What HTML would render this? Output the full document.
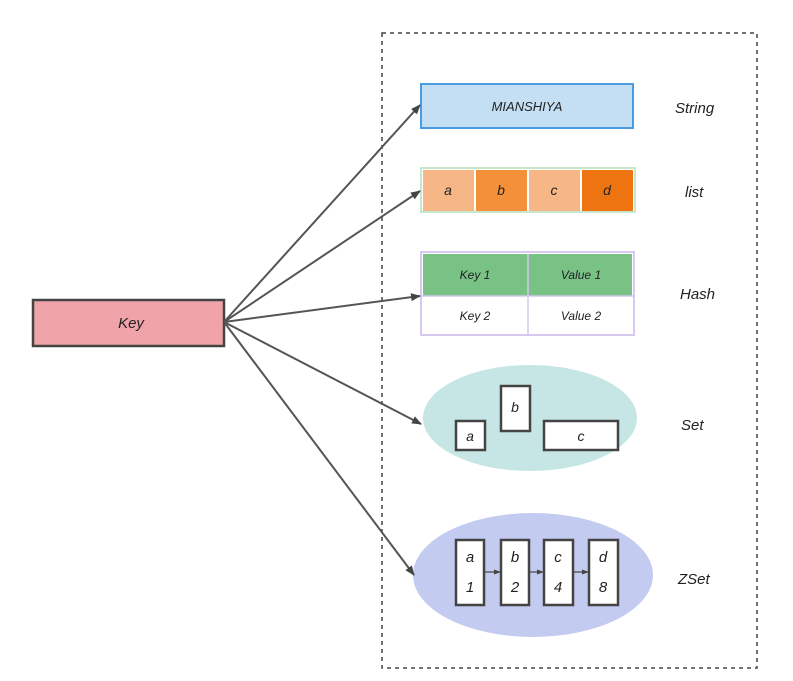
<!DOCTYPE html>
<html><head><style>body{margin:0;background:#fff}svg{display:block}text{font-family:"Liberation Sans",sans-serif;font-style:italic;fill:#222}</style></head>
<body>
<svg width="793" height="681" viewBox="0 0 793 681" xmlns="http://www.w3.org/2000/svg">
<defs><marker id="ar" markerWidth="10" markerHeight="10" refX="9" refY="5" orient="auto" markerUnits="userSpaceOnUse"><path d="M0,1 L10,5 L0,9 Z" fill="#444"/></marker>
<marker id="as" markerWidth="7" markerHeight="7" refX="6" refY="3.5" orient="auto" markerUnits="userSpaceOnUse"><path d="M0,1 L7,3.5 L0,6 Z" fill="#444"/></marker></defs>
<rect x="382" y="33" width="375" height="635" fill="none" stroke="#444" stroke-width="1.5" stroke-dasharray="4,4"/>
<rect x="421" y="84" width="212" height="44" fill="#c4dff4" stroke="#4a9be0" stroke-width="2"/>
<text x="527" y="111" text-anchor="middle" font-size="13">MIANSHIYA</text>
<rect x="421" y="168" width="214" height="44" fill="#fff" stroke="#c8e6cc" stroke-width="2"/>
<rect x="423" y="170" width="51" height="41" fill="#f6b686"/>
<rect x="476" y="170" width="51" height="41" fill="#f39039"/>
<rect x="529" y="170" width="51" height="41" fill="#f6b686"/>
<rect x="582" y="170" width="51" height="41" fill="#ee7412"/>
<g font-size="14" text-anchor="middle"><text x="448" y="195">a</text><text x="501" y="195">b</text><text x="554" y="195">c</text><text x="607" y="195">d</text></g>
<rect x="421" y="252" width="213" height="83" fill="#fff" stroke="#d6c8ef" stroke-width="2"/>
<rect x="423" y="254" width="209" height="42" fill="#78c286"/>
<line x1="528" y1="254" x2="528" y2="335" stroke="#d6c8ef" stroke-width="1.5"/>
<line x1="421" y1="296" x2="634" y2="296" stroke="#d6c8ef" stroke-width="1.5"/>
<g font-size="12" text-anchor="middle"><text x="475" y="279">Key 1</text><text x="581" y="279">Value 1</text><text x="475" y="320">Key 2</text><text x="581" y="320">Value 2</text></g>
<ellipse cx="530" cy="418" rx="107" ry="53" fill="#c5e6e4"/>
<g fill="#fff" stroke="#444" stroke-width="2.5"><rect x="456" y="421" width="29" height="29"/><rect x="501" y="386" width="29" height="45"/><rect x="544" y="421" width="74" height="29"/></g>
<g font-size="14" text-anchor="middle"><text x="470" y="441">a</text><text x="515" y="412">b</text><text x="581" y="441">c</text></g>
<ellipse cx="533" cy="575" rx="120" ry="62" fill="#c3cbf0"/>
<g fill="#fff" stroke="#444" stroke-width="2.5"><rect x="456" y="540" width="28" height="65"/><rect x="501" y="540" width="28" height="65"/><rect x="544" y="540" width="29" height="65"/><rect x="589" y="540" width="29" height="65"/></g>
<g stroke="#444" stroke-width="1.2"><line x1="485" y1="572" x2="500" y2="572" marker-end="url(#as)"/><line x1="530" y1="572" x2="543" y2="572" marker-end="url(#as)"/><line x1="574" y1="572" x2="588" y2="572" marker-end="url(#as)"/></g>
<g font-size="15" text-anchor="middle"><text x="470" y="562">a</text><text x="470" y="592">1</text><text x="515" y="562">b</text><text x="515" y="592">2</text><text x="558" y="562">c</text><text x="558" y="592">4</text><text x="603" y="562">d</text><text x="603" y="592">8</text></g>
<rect x="33" y="300" width="191" height="46" fill="#f1a3aa" stroke="#444" stroke-width="2.5"/>
<text x="131" y="328" text-anchor="middle" font-size="15">Key</text>
<g stroke="#555" stroke-width="2" fill="none">
<line x1="224" y1="322" x2="420" y2="105" marker-end="url(#ar)"/>
<line x1="224" y1="322" x2="420" y2="191" marker-end="url(#ar)"/>
<line x1="224" y1="322" x2="420" y2="296" marker-end="url(#ar)"/>
<line x1="224" y1="322" x2="421" y2="424" marker-end="url(#ar)"/>
<line x1="224" y1="322" x2="414" y2="575" marker-end="url(#ar)"/>
</g>
<g font-size="15"><text x="675" y="113">String</text><text x="685" y="197">list</text><text x="680" y="299">Hash</text><text x="681" y="430">Set</text><text x="678" y="584">ZSet</text></g>
</svg>
</body></html>
